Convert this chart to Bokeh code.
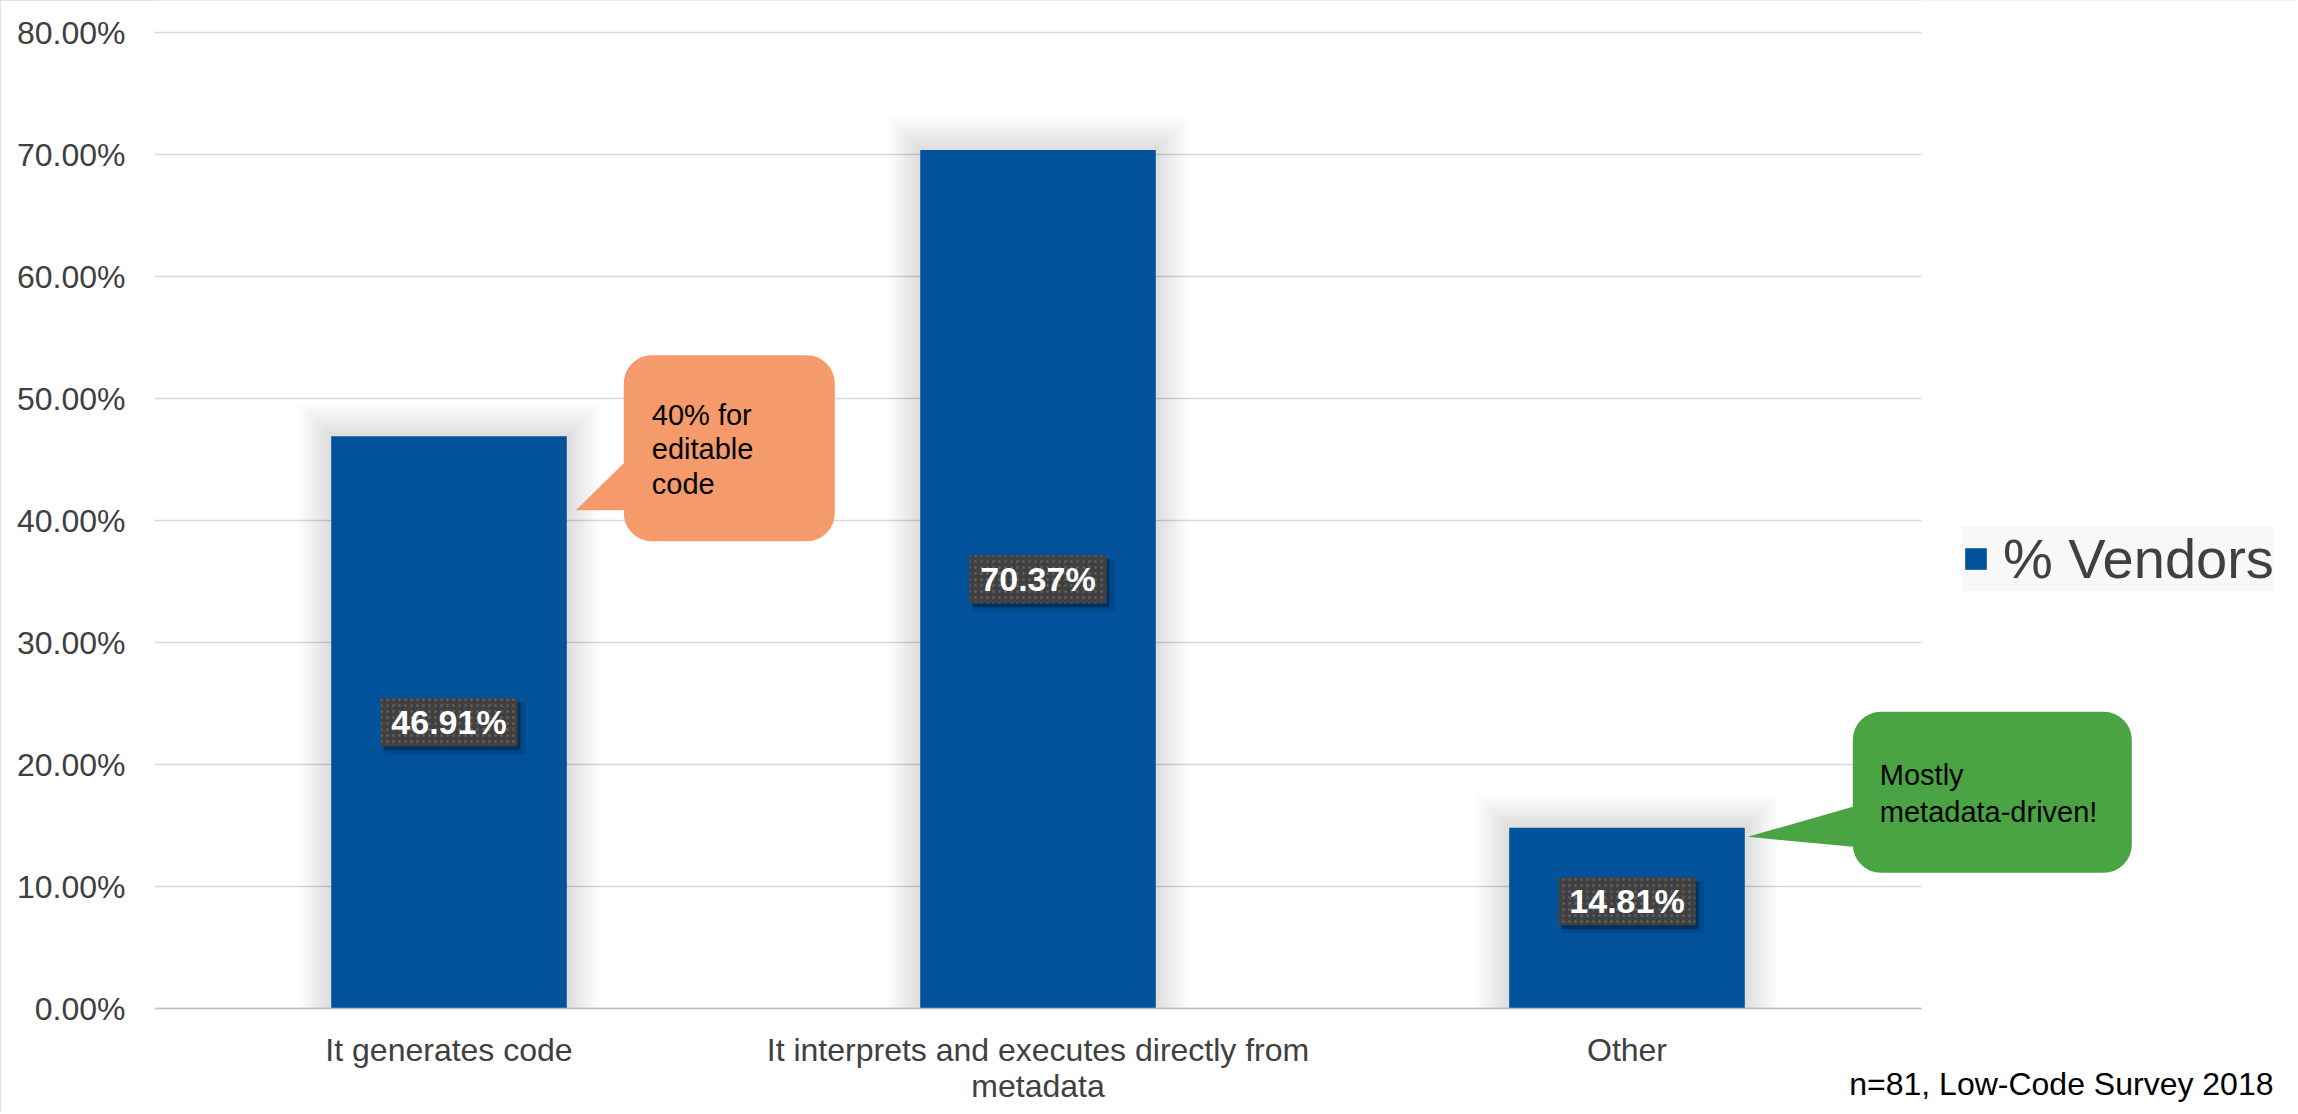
from bokeh.plotting import figure
from bokeh.models import (Range1d, NumeralTickFormatter, FixedTicker, LinearAxis,
                          Label, PolyAnnotation, BoxAnnotation, ColumnDataSource)
from bokeh.transform import dodge
from bokeh.core.properties import value
from bokeh.embed import file_html
from bokeh.resources import INLINE
import math

# ---------------- data ----------------
categories = ["It generates code",
              "It interprets and executes directly from metadata",
              "Other"]
category_labels = ["It generates code",
                   "It interprets and executes directly from\nmetadata",
                   "Other"]
vendors_pct = [0.4691, 0.7037, 0.1481]
value_labels = ["46.91%", "70.37%", "14.81%"]
y_ticks = [0.0, 0.1, 0.2, 0.3, 0.4, 0.5, 0.6, 0.7, 0.8]
series_name = "% Vendors"
footnote = "n=81, Low-Code Survey 2018"
orange_lines = ["40% for", "editable", "code"]
green_lines = ["Mostly", "metadata-driven!"]

# ---------------- layout / style ----------------
FONT = "Liberation Sans"
W, H = 2296, 1112
LEFT = 154                 # y-axis panel width
Y0_PX, YTOP_PX = 1008, 32  # pixel rows of 0 % and 80 %
PLOT_W = 1767              # width of the category area
YMAX = 0.8
N = len(categories)
CAT_PX = PLOT_W / N
PX_Y = YMAX / (Y0_PX - YTOP_PX)
BAR_W = 0.4
BAR_COLOR = "#01529B"
TEXT_COLOR = "#404040"
label_shift_px = [0, 0, 17]

cat_x = [i + 0.5 for i in range(N)]
line1 = [lbl.split("\n")[0] for lbl in category_labels]
line2 = [(lbl.split("\n") + [""])[1] for lbl in category_labels]

FRAME_W = W - LEFT
FRAME_H = H
x_end = FRAME_W / CAT_PX
y_start = -(H - Y0_PX) * PX_Y
y_end = YMAX + YTOP_PX * PX_Y

p = figure(x_range=Range1d(0, x_end), y_range=Range1d(y_start, y_end),
           frame_width=FRAME_W, frame_height=FRAME_H,
           min_border_left=LEFT, min_border_right=0,
           min_border_top=0, min_border_bottom=0,
           output_backend="svg", toolbar_location=None)
p.outline_line_color = None
p.background_fill_color = "white"
p.border_fill_color = "white"
p.styles = {"outline": "2px solid #d9d9d9", "outline-offset": "-2px"}

# mask the grid to the right of the category area (legend zone)
p.add_layout(BoxAnnotation(left=N, fill_color="white", fill_alpha=1,
                           line_color=None, level="underlay"))

# soft shadow behind bars
for k in range(1, 9):
    p.vbar(x=cat_x, top=[v + k * 4 * PX_Y for v in vendors_pct],
           width=BAR_W + 2 * k * 4 / CAT_PX,
           fill_color="black", fill_alpha=0.016, line_color=None)

p.vbar(x=cat_x, top=vendors_pct, width=BAR_W, fill_color=BAR_COLOR,
       line_color=None, legend_label=series_name)

# data labels
ly = [v / 2 + s * PX_Y for v, s in zip(vendors_pct, label_shift_px)]
src = ColumnDataSource(dict(x=cat_x, y=ly,
                            ys=[y - 4 * PX_Y for y in ly],
                            ys2=[y - 6 * PX_Y for y in ly],
                            t=value_labels))
p.rect(x=dodge("x", 6 / CAT_PX), y="ys2", width=141, height=52,
       width_units="screen", height_units="screen",
       fill_color="black", fill_alpha=0.12, line_color=None, source=src)
p.rect(x=dodge("x", 3 / CAT_PX), y="ys", width=137, height=48,
       width_units="screen", height_units="screen",
       fill_color="black", fill_alpha=0.3, line_color=None, source=src)
p.rect(x="x", y="y", width=137, height=48, width_units="screen", height_units="screen",
       fill_color="#404040", line_color=None,
       hatch_pattern=".", hatch_color="#5c5c5c", hatch_scale=6, hatch_weight=1.5,
       source=src)
p.text(x="x", y="y", text="t", text_font=value(FONT), text_font_style="bold",
       text_font_size="34px", text_color="white", text_align="center",
       text_baseline="middle", source=src)


# callouts (positioned relative to the bar top-right corner, in px)
def callout(idx, rect, r, wedge, color, lines, text_x, baselines):
    ax = cat_x[idx] + BAR_W / 2
    ay = vendors_pct[idx]

    def cv(dx, dy):
        return ax + dx / CAT_PX, ay - dy * PX_Y

    x0, y0, x1, y1 = rect
    wt, tipx, tipy, wb = wedge
    pts = []

    def arc(cx, cy, a0, a1):
        for i in range(9):
            a = math.radians(a0 + (a1 - a0) * i / 8)
            pts.append((cx + r * math.cos(a), cy + r * math.sin(a)))

    arc(x1 - r, y0 + r, -90, 0)
    arc(x1 - r, y1 - r, 0, 90)
    arc(x0 + r, y1 - r, 90, 180)
    pts.append((x0, wb))
    pts.append((tipx, tipy))
    pts.append((x0, wt))
    arc(x0 + r, y0 + r, 180, 270)
    xs, ys = zip(*[cv(a, b) for a, b in pts])
    p.add_layout(PolyAnnotation(xs=list(xs), ys=list(ys), fill_color=color,
                                fill_alpha=1, line_color=None))
    for line, b in zip(lines, baselines):
        lx, lyy = cv(text_x, b)
        p.add_layout(Label(x=lx, y=lyy, text=line, text_font=FONT,
                           text_font_size="29px", text_color="black",
                           text_align="left", text_baseline="alphabetic"))


callout(0, (57, -81, 268, 105), 28, (27, 9, 74, 74), "#F59A6B",
        orange_lines, 85, [-21, 13, 48])
callout(2, (108, -116, 387, 45), 28, (-21, 3, 9, 19), "#4AA443",
        green_lines, 135, [-53, -16])

# y axis
p.yaxis.ticker = FixedTicker(ticks=y_ticks)
p.yaxis.formatter = NumeralTickFormatter(format="0.00%")
p.yaxis.axis_line_color = None
p.yaxis.major_tick_line_color = None
p.yaxis.minor_tick_line_color = None
p.yaxis.major_tick_out = 0
p.yaxis.minor_tick_out = 0
p.yaxis.major_label_standoff = 29
p.yaxis.major_label_text_font = FONT
p.yaxis.major_label_text_font_size = "32px"
p.yaxis.major_label_text_color = TEXT_COLOR


def style_xaxis(ax, labels, standoff, line):
    ax.fixed_location = 0
    ax.bounds = (0, N)
    ax.ticker = FixedTicker(ticks=cat_x)
    ax.major_label_overrides = dict(zip(cat_x, labels))
    ax.axis_line_color = "#bfbfbf" if line else None
    ax.axis_line_width = 1.5
    ax.major_tick_line_color = None
    ax.minor_tick_line_color = None
    ax.major_tick_out = 0
    ax.minor_tick_out = 0
    ax.major_label_standoff = standoff
    ax.major_label_text_font = FONT
    ax.major_label_text_font_size = "32px"
    ax.major_label_text_color = TEXT_COLOR


style_xaxis(p.xaxis[0], line1, 23, True)
ax2 = LinearAxis()
style_xaxis(ax2, line2, 23 + 36, False)
p.add_layout(ax2, "below")

p.xgrid.grid_line_color = None
p.ygrid.ticker = FixedTicker(ticks=y_ticks)
p.ygrid.grid_line_color = "#d9d9d9"
p.ygrid.grid_line_width = 1.5

# legend
leg = p.legend[0]
leg.location = (1808, 521)
leg.label_text_font = FONT
leg.label_text_font_size = "56px"
leg.label_text_color = TEXT_COLOR
leg.glyph_width = 27
leg.glyph_height = 27
leg.padding = 20
leg.label_standoff = 14
leg.margin = 0
leg.border_line_color = None
leg.background_fill_color = "#f8f8f8"
leg.background_fill_alpha = 1

# footnote
p.add_layout(Label(x=N, y=0, x_offset=352, y_offset=-75, text=footnote,
                   text_font=FONT, text_font_size="32px", text_color="black",
                   text_align="right", text_baseline="alphabetic"))

open("out.html", "w").write(file_html(p, INLINE, title="Low-Code Survey 2018"))
